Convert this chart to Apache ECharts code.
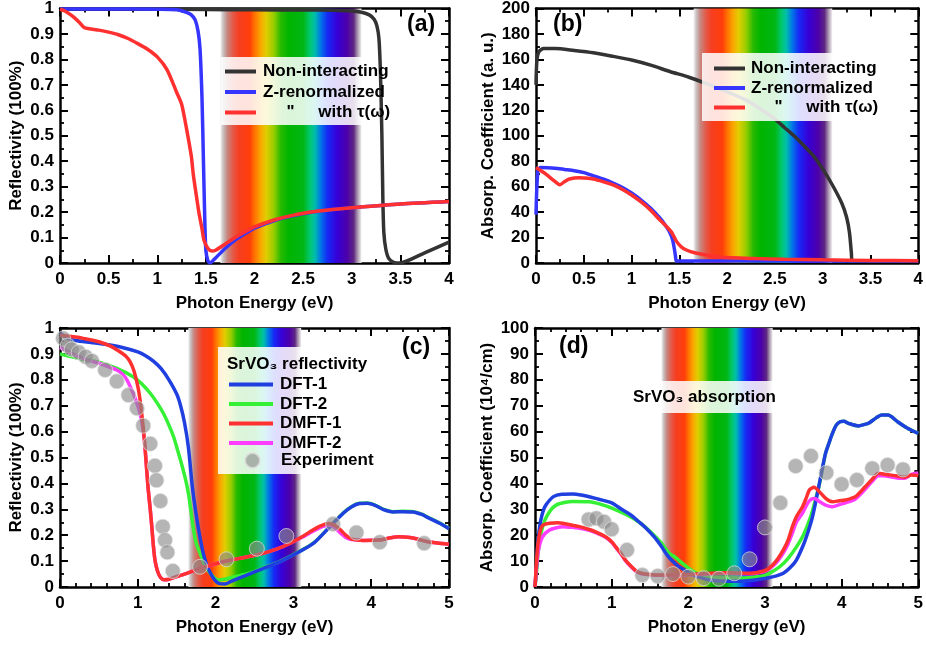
<!DOCTYPE html>
<html><head><meta charset="utf-8">
<script src="https://cdn.jsdelivr.net/npm/echarts/dist/echarts.min.js"></script>
<style>html,body{margin:0;padding:0;background:#fff}#c{width:926px;height:645px}</style>
</head><body><div id="c"></div>
<script>
// ---------- DATA ----------
const bandRange = [1.65, 3.1];

// Panel (a): reflectivity, model
const aNonInteracting = [[0,0.997],[0.5,0.997],[1,0.997],[1.5,0.996],[2,0.995],[2.5,0.994],[2.8,0.993],[3.0,0.99],[3.1,0.985],[3.18,0.975],[3.23,0.958],[3.26,0.93],[3.28,0.88],[3.295,0.75],[3.31,0.5],[3.32,0.25],[3.33,0.12],[3.35,0.055],[3.38,0.018],[3.43,0.003],[3.49,0],[3.75,0.04],[4,0.082]];
const aZrenorm = [[0,0.998],[0.5,0.998],[1,0.997],[1.2,0.995],[1.3,0.985],[1.35,0.975],[1.39,0.955],[1.42,0.91],[1.44,0.84],[1.46,0.65],[1.475,0.4],[1.49,0.15],[1.5,0.05],[1.52,0.01],[1.54,0.0],[1.6,0.02],[1.7,0.058],[1.8,0.09],[1.9,0.115],[2.0,0.137],[2.2,0.166],[2.4,0.186],[2.6,0.2],[2.8,0.21],[3,0.217],[3.5,0.232],[4,0.242]];
const aWithTau = [[0,0.997],[0.05,0.99],[0.1,0.978],[0.15,0.963],[0.2,0.945],[0.25,0.925],[0.4,0.915],[0.5,0.907],[0.6,0.897],[0.7,0.882],[0.8,0.862],[0.9,0.84],[1.0,0.81],[1.1,0.76],[1.2,0.67],[1.25,0.625],[1.3,0.53],[1.35,0.42],[1.37,0.35],[1.4,0.27],[1.43,0.195],[1.46,0.135],[1.48,0.09],[1.52,0.058],[1.56,0.047],[1.6,0.05],[1.7,0.075],[1.8,0.1],[1.9,0.122],[2.0,0.142],[2.2,0.169],[2.4,0.188],[2.6,0.201],[2.8,0.21],[3.0,0.217],[3.5,0.232],[4,0.242]];

// Panel (b): absorption, model
const bNonInteracting = [[0,140],[0.01,160],[0.03,166],[0.08,168.5],[0.2,168.5],[0.4,167],[0.6,165.2],[0.8,162.5],[1.0,159.5],[1.2,155.5],[1.4,150.5],[1.6,146],[1.8,140.5],[2.0,134.5],[2.2,128],[2.4,118.5],[2.5,113],[2.6,106.5],[2.7,100],[2.8,92.5],[2.9,84.5],[3.0,74],[3.1,61.5],[3.2,47],[3.25,36],[3.28,24],[3.3,8],[3.31,1.5],[4,1.5]];
const bZrenorm = [[0,38],[0.02,73],[0.05,75],[0.2,74.5],[0.3,73.5],[0.4,72.5],[0.5,71],[0.6,68.5],[0.7,66],[0.8,63],[0.9,59.5],[1.0,55],[1.1,49.5],[1.2,43],[1.3,35],[1.35,30],[1.4,24],[1.43,18],[1.45,10],[1.46,5],[1.47,1.5],[4,1.5]];
const bWithTau = [[0,75],[0.1,70],[0.2,64],[0.25,61.5],[0.3,64],[0.35,66],[0.45,67],[0.5,66.8],[0.6,66],[0.7,64],[0.8,61.5],[0.9,58],[1.0,53.5],[1.1,48],[1.2,41.5],[1.3,33.5],[1.38,27.5],[1.42,24],[1.47,17],[1.52,12.7],[1.58,10],[1.66,8],[1.8,6],[1.93,4.5],[2.3,3.5],[2.6,3],[3,2.5],[3.5,2],[4,1.8]];

// Panel (c): SrVO3 reflectivity
const cDFT1 = [[0,0.98],[0.1,0.96],[0.2,0.952],[0.4,0.944],[0.6,0.936],[0.8,0.925],[1.0,0.908],[1.1,0.893],[1.2,0.872],[1.3,0.843],[1.4,0.8],[1.5,0.745],[1.55,0.7],[1.6,0.635],[1.65,0.54],[1.7,0.39],[1.75,0.28],[1.8,0.19],[1.85,0.12],[1.9,0.075],[1.97,0.035],[2.05,0.013],[2.12,0.012],[2.2,0.022],[2.4,0.046],[2.6,0.07],[2.83,0.098],[3.04,0.13],[3.26,0.169],[3.47,0.233],[3.64,0.285],[3.75,0.31],[3.85,0.322],[3.95,0.323],[4.05,0.315],[4.15,0.3],[4.28,0.29],[4.4,0.291],[4.54,0.29],[4.65,0.28],[4.71,0.271],[4.88,0.246],[5,0.225]];
const cDFT2 = [[0,0.9],[0.2,0.885],[0.5,0.868],[0.73,0.844],[0.94,0.812],[1.05,0.785],[1.16,0.748],[1.25,0.71],[1.33,0.67],[1.4,0.625],[1.46,0.58],[1.51,0.53],[1.56,0.478],[1.61,0.42],[1.65,0.362],[1.68,0.3],[1.71,0.233],[1.75,0.17],[1.8,0.13],[1.86,0.085],[1.93,0.053],[2.03,0.027],[2.12,0.03],[2.2,0.037],[2.4,0.05],[2.6,0.072],[2.83,0.099],[3.04,0.131],[3.26,0.17],[3.47,0.234],[3.64,0.286],[3.75,0.311],[3.85,0.323],[3.95,0.324],[4.05,0.316],[4.15,0.301],[4.28,0.291],[4.4,0.292],[4.54,0.291],[4.65,0.281],[4.71,0.272],[4.88,0.247],[5,0.226]];
const cDMFT1 = [[0,0.972],[0.2,0.965],[0.3,0.96],[0.5,0.947],[0.65,0.93],[0.75,0.912],[0.85,0.89],[0.9,0.87],[0.95,0.835],[1.0,0.775],[1.03,0.72],[1.06,0.645],[1.09,0.55],[1.13,0.39],[1.16,0.3],[1.18,0.233],[1.2,0.16],[1.22,0.105],[1.25,0.065],[1.29,0.038],[1.34,0.028],[1.4,0.03],[1.5,0.04],[1.6,0.05],[1.8,0.072],[2.0,0.09],[2.2,0.104],[2.4,0.116],[2.61,0.13],[2.8,0.148],[2.96,0.169],[3.1,0.192],[3.25,0.22],[3.35,0.236],[3.45,0.245],[3.52,0.24],[3.6,0.222],[3.68,0.198],[3.75,0.185],[3.9,0.18],[4.1,0.181],[4.25,0.19],[4.35,0.194],[4.5,0.191],[4.62,0.183],[4.71,0.176],[4.85,0.17],[5,0.165]];
const cDMFT2 = [[0,0.925],[0.2,0.895],[0.36,0.876],[0.5,0.864],[0.6,0.853],[0.73,0.838],[0.8,0.822],[0.86,0.8],[0.94,0.748],[1.0,0.7],[1.04,0.655],[1.07,0.6],[1.09,0.55],[1.13,0.39],[1.16,0.3],[1.18,0.233],[1.2,0.16],[1.22,0.105],[1.25,0.065],[1.29,0.038],[1.34,0.028],[1.4,0.03],[1.5,0.04],[1.6,0.05],[1.8,0.072],[2.0,0.09],[2.2,0.104],[2.4,0.116],[2.61,0.13],[2.8,0.148],[2.96,0.169],[3.1,0.19],[3.25,0.215],[3.35,0.23],[3.45,0.238],[3.52,0.232],[3.6,0.21],[3.68,0.19],[3.75,0.183],[3.9,0.18],[4.1,0.181],[4.25,0.19],[4.35,0.194],[4.5,0.191],[4.62,0.183],[4.71,0.176],[4.85,0.17],[5,0.165]];
const cExpX = [0.04,0.1,0.15,0.24,0.33,0.41,0.58,0.73,0.88,0.99,1.07,1.16,1.22,1.24,1.29,1.32,1.35,1.38,1.45,1.80,2.14,2.53,2.91,3.51,3.81,4.11,4.68];
const cExpY = [0.96,0.932,0.918,0.906,0.889,0.873,0.838,0.794,0.741,0.69,0.623,0.553,0.468,0.412,0.332,0.233,0.181,0.134,0.062,0.078,0.107,0.148,0.197,0.243,0.21,0.173,0.169];

// Panel (d): SrVO3 absorption
const dDFT1 = [[0,0],[0.02,8],[0.04,18],[0.07,25],[0.11,29.7],[0.15,32],[0.24,34.9],[0.35,35.8],[0.49,35.9],[0.6,35.5],[0.79,34.2],[1.0,32.5],[1.13,30],[1.25,27.8],[1.35,25.3],[1.44,23],[1.55,19.5],[1.65,15.6],[1.72,12.5],[1.78,10.4],[1.87,8],[1.95,6.6],[2.05,4.8],[2.16,3.6],[2.3,2.6],[2.5,2.2],[2.7,2.2],[2.81,2.5],[3.02,3.4],[3.15,4.3],[3.24,5.3],[3.33,7.5],[3.41,10.4],[3.51,16.9],[3.57,22],[3.62,27.1],[3.67,34],[3.71,40],[3.75,46],[3.79,51.6],[3.84,56],[3.88,59.3],[3.93,62.5],[3.98,63.8],[4.03,64],[4.09,63.2],[4.22,62.2],[4.3,62.8],[4.35,63.2],[4.45,65.3],[4.52,66.4],[4.61,66.4],[4.67,65.3],[4.73,63.8],[4.86,61.3],[5,59.3]];
const dDFT2 = [[0,0],[0.02,6],[0.04,13],[0.08,21],[0.13,25.9],[0.2,29.5],[0.28,31.7],[0.4,32.7],[0.49,33],[0.71,32.9],[0.85,32],[1.01,30.4],[1.2,27.8],[1.35,25.2],[1.5,21.5],[1.65,16.9],[1.75,13],[1.82,11.7],[1.88,10.2],[1.95,8.5],[2.05,6.3],[2.16,4.6],[2.3,3.8],[2.5,3.5],[2.7,3.5],[2.9,4],[3.0,4.5],[3.1,6],[3.2,8],[3.3,11],[3.4,15],[3.5,20],[3.6,27.5],[3.67,35],[3.72,41],[3.79,51.6],[3.84,56],[3.88,59.3],[3.93,62.5],[3.98,63.8],[4.03,64],[4.09,63.2],[4.22,62.2],[4.3,62.8],[4.35,63.2],[4.45,65.3],[4.52,66.4],[4.61,66.4],[4.67,65.3],[4.73,63.8],[4.86,61.3],[5,59.3]];
const dDMFT1 = [[0,0],[0.02,10],[0.04,17],[0.07,22],[0.1,23.8],[0.19,24.6],[0.3,24.8],[0.36,24.6],[0.5,23.8],[0.58,23.3],[0.7,22.3],[0.79,21.3],[0.92,19.4],[1.0,17.5],[1.05,15.6],[1.12,13],[1.18,10.4],[1.26,7.8],[1.32,6.2],[1.39,5.3],[1.5,4.8],[1.65,4.6],[2.0,4.8],[2.51,5.5],[2.81,5.3],[2.9,5.6],[3.02,6.6],[3.1,8.5],[3.17,11],[3.24,14.3],[3.3,18],[3.36,23.5],[3.41,27.1],[3.49,31],[3.54,34.5],[3.58,37.5],[3.64,38.5],[3.71,36.8],[3.8,34],[3.88,32.9],[3.97,33.3],[4.05,33.6],[4.18,34.9],[4.3,38.5],[4.39,41.3],[4.48,43.9],[4.55,43.6],[4.65,43.2],[4.75,42.7],[4.82,42.4],[4.91,43.2],[5,43]];
const dDMFT2 = [[0,0],[0.02,8],[0.05,15],[0.1,19.5],[0.19,22],[0.3,23],[0.36,23.3],[0.5,23],[0.58,22.7],[0.7,22],[0.79,21],[0.92,19.2],[1.0,17.3],[1.05,15.4],[1.12,12.8],[1.18,10.2],[1.26,7.6],[1.32,6],[1.39,5.1],[1.5,4.7],[1.65,4.5],[2.0,4.7],[2.51,5.3],[2.81,5.1],[2.9,5.4],[3.02,6.3],[3.1,8],[3.17,10.2],[3.24,13.2],[3.3,16.5],[3.36,21],[3.41,25],[3.49,28.5],[3.55,32],[3.6,33.8],[3.65,34.2],[3.71,33],[3.8,31.5],[3.88,31],[3.97,31.8],[4.05,32.5],[4.18,34],[4.3,37.5],[4.39,40.5],[4.48,43],[4.55,43],[4.65,42.5],[4.75,42],[4.82,42],[4.91,43.5],[5,44]];
const dExpX = [0.7,0.8,0.9,1.0,1.2,1.4,1.6,1.8,2.0,2.2,2.4,2.6,2.8,3.0,3.2,3.4,3.6,3.8,4.0,4.2,4.4,4.6,4.8];
const dExpY = [26.1,26.5,25.2,22.3,14.3,4.6,4.2,5.0,4.0,3.4,3.2,5.3,10.7,23.0,32.5,46.7,50.6,44.1,39.7,41.3,45.8,47.1,45.4];

// ---------- STYLE / LAYOUT ----------
const FONT = '"Liberation Sans", Arial, sans-serif';
const C = {black:'#333333', blueA:'#3535ff', red:'#ff3030', blue:'#1f3fe0', green:'#35f035', magenta:'#ff3dff'};
const grids = [
  {left:60, top:6, width:389, height:257},
  {left:536, top:6, width:388, height:257},
  {left:60, top:328, width:389, height:259},
  {left:535, top:328, width:389, height:259}
];
const axisSpec = [
  {x:[0,4,0.5,2], y:[0,1,0.1,2], xn:'Photon Energy (eV)', yn:'Reflectivity (100%)', yGap:35},
  {x:[0,4,0.5,2], y:[0,200,20,2], xn:'Photon Energy (eV)', yn:'Absorp. Coefficient (a. u.)', yGap:39},
  {x:[0,5,1,5], y:[0,1,0.1,2], xn:'Photon Energy (eV)', yn:'Reflectivity (100%)', yGap:35},
  {x:[0,5,1,5], y:[0,100,10,2], xn:'Photon Energy (eV)', yn:'Absorp. Coefficient (10\u2074/cm)', yGap:39}
];
const FS = 17;
const lblStyle = {color:'#000', fontWeight:'bold', fontSize:FS, fontFamily:FONT};
const xAxes = [], yAxes = [];
axisSpec.forEach((s, g) => {
  const common = (r, pos, show, name, gap, margin) => ({
    type:'value', gridIndex:g, position:pos, min:r[0], max:r[1], interval:r[2],
    axisLine:{show:true, onZero:false, lineStyle:{color:'#000', width:2.5}},
    axisTick:{show:true, inside:true, length:8, lineStyle:{color:'#000', width:2}},
    minorTick:{show:true, splitNumber:r[3], length:4, lineStyle:{color:'#000', width:1.8}},
    splitLine:{show:false},
    axisLabel:Object.assign({show:show, margin:margin, showMinLabel:true, showMaxLabel:true}, lblStyle),
    name: show ? name : '', nameLocation:'middle', nameGap:gap,
    nameTextStyle:{color:'#000', fontWeight:'bold', fontSize:FS, fontFamily:FONT}
  });
  xAxes.push(common(s.x, 'bottom', true, s.xn, 32, 8));
  xAxes.push(common(s.x, 'top', false, '', 0, 8));
  yAxes.push(common(s.y, 'left', true, s.yn, s.yGap, 6));
  yAxes.push(common(s.y, 'right', false, '', 0, 6));
});

const rainbow = () => new echarts.graphic.LinearGradient(0,0,1,0,[
  {offset:0, color:'rgb(238,238,238)'},{offset:0.021, color:'rgb(200,190,190)'},
  {offset:0.048, color:'rgb(198,135,128)'},{offset:0.09, color:'rgb(228,88,70)'},
  {offset:0.131, color:'rgb(246,62,32)'},{offset:0.207, color:'rgb(255,62,10)'},
  {offset:0.241, color:'rgb(255,112,0)'},{offset:0.283, color:'rgb(250,165,0)'},
  {offset:0.324, color:'rgb(226,205,0)'},{offset:0.379, color:'rgb(150,205,0)'},
  {offset:0.428, color:'rgb(40,186,0)'},{offset:0.483, color:'rgb(0,180,0)'},
  {offset:0.586, color:'rgb(0,182,20)'},{offset:0.634, color:'rgb(0,200,110)'},
  {offset:0.669, color:'rgb(0,190,170)'},{offset:0.71, color:'rgb(0,120,230)'},
  {offset:0.759, color:'rgb(22,42,245)'},{offset:0.828, color:'rgb(55,0,215)'},
  {offset:0.897, color:'rgb(75,0,170)'},{offset:0.945, color:'rgb(95,40,130)'},
  {offset:0.972, color:'rgb(170,150,175)'},{offset:1, color:'rgb(242,242,242)'}
]);

const series = [];
for (let g = 0; g < 4; g++) {
  series.push({type:'line', xAxisIndex:2*g, yAxisIndex:2*g, data:[], z:1, silent:true,
    markArea:{silent:true, itemStyle:{color:rainbow(), opacity:1}, data:[[{xAxis:bandRange[0]},{xAxis:bandRange[1]}]]}});
}
function line(name, data, g, color, z) {
  return {type:'line', name, data, xAxisIndex:2*g, yAxisIndex:2*g, showSymbol:false, symbol:'none',
    smooth:0.25, z:z||2, color, itemStyle:{color}, lineStyle:{color, width:3.5}, animation:false};
}
const TAU = '\u00a0\u00a0\u00a0\u00a0\u00a0"\u00a0\u00a0\u00a0\u00a0\u00a0with \u03c4(\u03c9)';
series.push(line('Non-interacting', aNonInteracting, 0, C.black));
series.push(line('Z-renormalized', aZrenorm, 0, C.blueA));
series.push(line(TAU, aWithTau, 0, C.red));
series.push(line('Non-interacting', bNonInteracting, 1, C.black));
series.push(line('Z-renormalized', bZrenorm, 1, C.blueA));
series.push(line(TAU, bWithTau, 1, C.red));
series.push(line('DFT-2', cDFT2, 2, C.green));
series.push(line('DFT-1', cDFT1, 2, C.blue));
series.push(line('DMFT-2', cDMFT2, 2, C.magenta));
series.push(line('DMFT-1', cDMFT1, 2, C.red));
series.push(line('DFT-2', dDFT2, 3, C.green));
series.push(line('DFT-1', dDFT1, 3, C.blue));
series.push(line('DMFT-2', dDMFT2, 3, C.magenta));
series.push(line('DMFT-1', dDMFT1, 3, C.red));
const expStyle = {color:'rgba(140,140,140,0.8)', borderColor:'rgba(225,225,225,0.9)', borderWidth:1};
series.push({type:'scatter', name:'Experiment', xAxisIndex:4, yAxisIndex:4, symbolSize:15, z:3,
  data:cExpX.map((x,i)=>[x,cExpY[i]]), itemStyle:expStyle, animation:false});
series.push({type:'scatter', name:'Experiment', xAxisIndex:6, yAxisIndex:6, symbolSize:15, z:3,
  data:dExpX.map((x,i)=>[x,dExpY[i]]), itemStyle:expStyle, animation:false});

const legTxt = (pl) => ({color:'#000', fontWeight:'bold', fontSize:FS, fontFamily:FONT, padding:[0,0,0,pl]});
const legends = [
  {left:225, top:63, padding:0, orient:'vertical', itemGap:3.5, itemWidth:31, itemHeight:4, icon:'rect',
   data:['Non-interacting','Z-renormalized',TAU], textStyle:legTxt(2), selectedMode:false},
  {left:714, top:60, padding:0, orient:'vertical', itemGap:2.5, itemWidth:31, itemHeight:4, icon:'rect',
   data:['Non-interacting','Z-renormalized',TAU], textStyle:legTxt(1), selectedMode:false},
  {left:229, top:376, padding:0, orient:'vertical', itemGap:2.5, itemWidth:44, itemHeight:4, icon:'rect',
   data:['DFT-1','DFT-2','DMFT-1','DMFT-2'], textStyle:legTxt(2), selectedMode:false},
  {left:244, top:452, padding:0, orient:'vertical', itemWidth:15, itemHeight:15, icon:'circle',
   data:['Experiment'], textStyle:legTxt(16), selectedMode:false}
];

const box = (x,y,w,h) => ({type:'rect', shape:{x,y,width:w,height:h}, style:{fill:'rgba(255,255,255,0.86)'}, z:3, silent:true});
const txt = (x,y,t,fs,align) => ({type:'text', x, y, z:5, silent:true,
  style:{text:t, fill:'#000', font:'bold '+fs+'px '+FONT, textAlign:align||'left', textVerticalAlign:'middle'}});
const graphics = [
  box(221,57,156,68), box(702,53,180,68), box(218,347,160,127), box(629,381,150,32),
  txt(407,25,'(a)',23), txt(553,25,'(b)',23), txt(402,348,'(c)',23), txt(559,347,'(d)',23),
  txt(227,364,'SrVO\u2083 reflectivity',FS), txt(633,397,'SrVO\u2083 absorption',FS)
];

const chart = echarts.init(document.getElementById('c'), null, {renderer:'canvas'});
chart.setOption({
  animation:false,
  backgroundColor:'#fff',
  grid:grids.map(g=>Object.assign({containLabel:false}, g)),
  xAxis:xAxes, yAxis:yAxes,
  legend:legends,
  graphic:{elements:graphics},
  series
});
</script></body></html>
